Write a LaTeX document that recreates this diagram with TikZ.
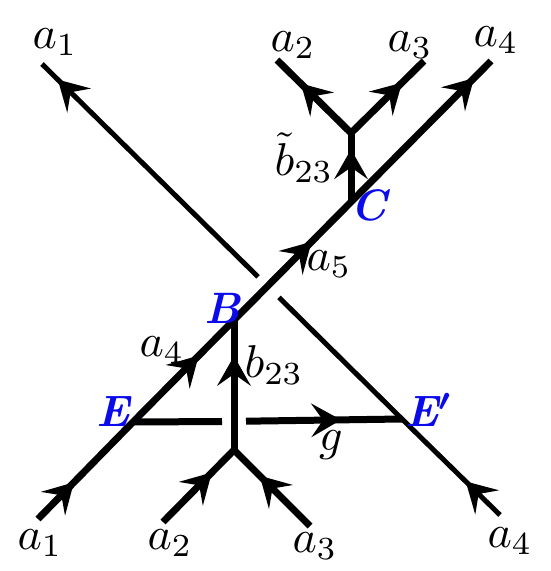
\documentclass[tikz,border=0pt]{standalone}
\usepackage{graphicx}
\usetikzlibrary{decorations.markings}
\definecolor{ptblue}{RGB}{10,10,235}
\newcommand{\mlbl}[1]{\scalebox{4.6}{$#1$}}
\newcommand{\plbl}[1]{\scalebox{4.4}{\bfseries\itshape\boldmath #1}}
\tikzset{
  arrat/.style={postaction={decorate,decoration={markings,
      mark=at position #1 with {\fill (3pt,0pt) -- (-27pt,17pt) -- (-15pt,0pt) -- (-27pt,-17pt) -- cycle;}}}},
  arrback/.style={postaction={decorate,decoration={markings,
      mark=at position #1 with {\fill (-3pt,0pt) -- (27pt,17pt) -- (15pt,0pt) -- (27pt,-17pt) -- cycle;}}}},
  strand/.style={line width=7pt},
  thinstrand/.style={line width=5pt},
  lbl/.style={inner sep=0pt},
  ptlbl/.style={inner sep=0pt,text=ptblue}
}
\begin{document}
\begin{tikzpicture}[x=1pt,y=-1pt]
\useasboundingbox (0,0) rectangle (551,571);
% coordinates
\coordinate (A1b) at (38,519);
\coordinate (E) at (133,422);
\coordinate (B) at (234,320);
\coordinate (C) at (351,202);
\coordinate (A4t) at (491,61);
\coordinate (A1t) at (42,64);
\coordinate (gapU) at (258,276.8);
\coordinate (gapL) at (279,297.4);
\coordinate (Ep) at (402,419);
\coordinate (A4b) at (500,515);
\coordinate (gL) at (222,421.5);
\coordinate (gR) at (246,421.2);
\coordinate (J1) at (234,450);
\coordinate (A2b) at (163,522);
\coordinate (A3b) at (310,526);
\coordinate (J2) at (351,133);
\coordinate (A2t) at (277,60);
\coordinate (A3t) at (424,61);
% strand a4 (bottom right) to a1 (top left), under-crossing
\draw[thinstrand,arrat=0.145] (A4b) -- (Ep) -- (gapL);
\draw[thinstrand,arrat=0.917] (gapU) -- (A1t);
% strand g
\draw[strand] (E) -- (gL);
\draw[strand,arrat=0.59] (gR) -- (Ep);
% bottom trivalent vertex
\draw[strand,miter limit=10,arrat=0.319,arrback=0.674] (A2b) -- (J1) -- (A3b);
\draw[strand,arrat=0.70] (J1) -- (B);
% strand a1 to a4, over-crossing
\draw[strand,arrat=0.075,arrat=0.351,arrat=0.600,arrat=0.958] (A1b) -- (E) -- (B) -- (C) -- (A4t);
% top trivalent vertex
\draw[strand,arrat=0.72] (C) -- (J2);
\draw[strand,miter limit=10,arrback=0.177,arrat=0.836] (A2t) -- (J2) -- (A3t);
% labels
\node[lbl] (lA1t) at (55,42) {\mlbl{a_1}};
\node[lbl] (lA2t) at (293,45) {\mlbl{a_2}};
\node[lbl] (lA3t) at (410,45) {\mlbl{a_3}};
\node[lbl] (lA4t) at (496,40) {\mlbl{a_4}};
\node[lbl] (lBt) at (304,158) {\mlbl{\tilde b_{23}}};
\node[lbl] (la5) at (329,264) {\mlbl{a_5}};
\node[lbl] (la4m) at (162,350) {\mlbl{a_4}};
\node[lbl] (lb23) at (274,365) {\mlbl{b_{23}}};
\node[lbl] (lg) at (331,445) {\mlbl{g}};
\node[lbl] (lA1b) at (40,543) {\mlbl{a_1}};
\node[lbl] (lA2b) at (170,543) {\mlbl{a_2}};
\node[lbl] (lA3b) at (315,546) {\mlbl{a_3}};
\node[lbl] (lA4b) at (510,541) {\mlbl{a_4}};
\node[ptlbl] (lC) at (369,205) {\plbl{C}};
\node[ptlbl] (lB) at (222,308) {\plbl{B}};
\node[ptlbl] (lE) at (113,412) {\plbl{E}};
\node[ptlbl] (lEp) at (429,410) {\plbl{E$'$}};
\end{tikzpicture}
\end{document}
